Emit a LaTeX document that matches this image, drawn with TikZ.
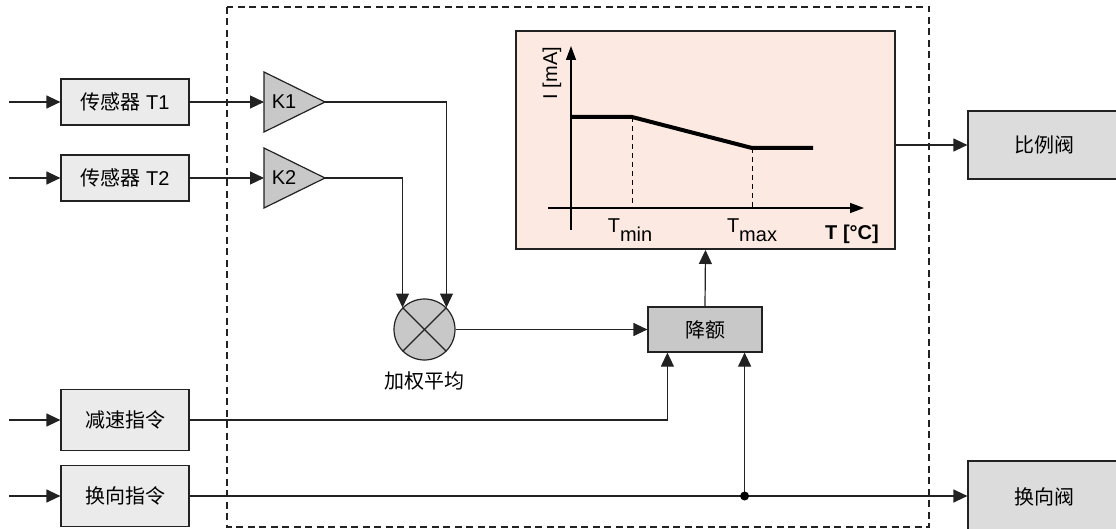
\documentclass[tikz,border=0pt]{standalone}
\usepackage{fontspec}
\setmainfont{Liberation Sans}
\newfontfamily\cjk{Noto Sans CJK SC}
\usetikzlibrary{arrows.meta,calc}
\definecolor{lineC}{HTML}{222222}
\definecolor{boxA}{HTML}{EBEBEB}
\definecolor{boxB}{HTML}{C8C8C8}
\definecolor{boxC}{HTML}{DCDCDC}
\definecolor{chartbg}{HTML}{FCEAE2}
\tikzset{
  every node/.style={font=\fontsize{20}{22}\selectfont},
  conn/.style={draw=lineC, line width=1.2pt},
  arr/.style={conn, -{Triangle[length=14pt,width=13pt]}},
  inbox/.style={draw=lineC, line width=1.2pt, fill=boxA, minimum width=128pt, inner sep=0pt},
  outbox/.style={draw=lineC, line width=1.2pt, fill=boxC, minimum width=152pt, inner sep=0pt},
  tri/.style={draw=lineC, line width=1.2pt, fill=boxB},
}
\begin{document}
\begin{tikzpicture}[x=1pt,y=-1pt]
\useasboundingbox (0,0) rectangle (1116,529);
% dashed frame
\draw[lineC, line width=1.2pt, dash pattern=on 7pt off 4.5pt] (227,7) rectangle (929,527);

% input boxes
\node[inbox, minimum height=46pt] (s1) at (125,102) {{\cjk 传感器} T1};
\node[inbox, minimum height=46pt] (s2) at (125,178) {{\cjk 传感器} T2};
\node[inbox, minimum height=61pt] (dc) at (125,420) {\cjk 减速指令};
\node[inbox, minimum height=61pt] (rc) at (125,496) {\cjk 换向指令};

\coordinate (i1) at (9,102);
\coordinate (i2) at (9,178);
\coordinate (i3) at (9,420);
\coordinate (i4) at (9,496);
\draw[arr] (i1) -- (s1.west);
\draw[arr] (s2.west -| i2) -- (s2.west);
\draw[arr] (dc.west -| i3) -- (dc.west);
\draw[arr] (rc.west -| i4) -- (rc.west);

% gain triangles
\coordinate (k1in) at (264,102);
\coordinate (k1out) at (325,102);
\coordinate (k2in) at (264,178);
\coordinate (k2out) at (325,178);
\draw[tri] (264,72) -- (k1out) -- (264,132) -- cycle;
\draw[tri] (264,148) -- (k2out) -- (264,208) -- cycle;
\node (k1) at (284,102) {K1};
\node (k2) at (284,178) {K2};
\draw[arr] (s1.east) -- (k1in);
\draw[arr] (s2.east) -- (k2in);

% multiplier
\node[circle, draw=lineC, line width=1.2pt, fill=boxB, minimum size=61pt, inner sep=0pt] (mul) at (424.5,329.5) {};
\draw[conn] (mul.45) -- (mul.225);
\draw[conn] (mul.135) -- (mul.315);
\node[font=\cjk\fontsize{20}{22}\selectfont] (mlab) at (424.5,381) {加权平均};
\draw[arr] (k2out) -| (mul.north west);
\draw[arr] (k1out) -| (mul.north east);

% derating
\node[draw=lineC, line width=1.2pt, fill=boxB, minimum width=114pt, minimum height=45pt, inner sep=0pt] (der) at (705,329.5) {\cjk 降额};
\draw[arr] (mul.east) -- (der.west);
\draw[arr] (dc.east) -| ([xshift=20pt]der.south west);

% chart
\node[draw=lineC, line width=2pt, fill=chartbg, minimum width=379pt, minimum height=218pt, inner sep=0pt] (chart) at (705.5,140) {};
\draw[arr] (der.north) -- (chart.south);
\draw[line width=1.4pt, -{Triangle[length=14pt,width=10pt]}] (571,230) -- (571,46);
\draw[line width=1.4pt, -{Triangle[length=14pt,width=10pt]}] (548,208) -- (864,208);
\draw[line width=4pt] (571,117) -- (632,117) -- (752,148) -- (813,148);
\draw[line width=1pt, dash pattern=on 5pt off 4pt] (632,117) -- (632,208);
\draw[line width=1pt, dash pattern=on 5pt off 4pt] (752,148) -- (752,208);
\node[anchor=base] (tmin) at (630,233) {T\raisebox{-9pt}{min}};
\node[anchor=base] (tmax) at (752,233) {T\raisebox{-9pt}{max}};
\node[anchor=base, font=\bfseries\fontsize{20}{22}\selectfont] (tlab) at (852,240) {T [°C]};
\node[rotate=90] (ilab) at (552,73) {I [mA]};

% output boxes
\node[outbox, minimum height=68pt] (pv) at (1044,145) {\cjk 比例阀};
\node[outbox, minimum height=72pt] (rv) at (1044,497) {\cjk 换向阀};
\draw[arr] (pv.west -| chart.east) -- (pv.west);

% reverse command line
\draw[arr] (rc.east) -- (rc.east -| rv.west);
\coordinate (jn) at ([xshift=-18pt]der.south east |- rc.east);
\draw[arr] (jn) -- ([xshift=-18pt]der.south east);
\fill[black] (jn) circle (4.5pt);
\end{tikzpicture}
\end{document}
